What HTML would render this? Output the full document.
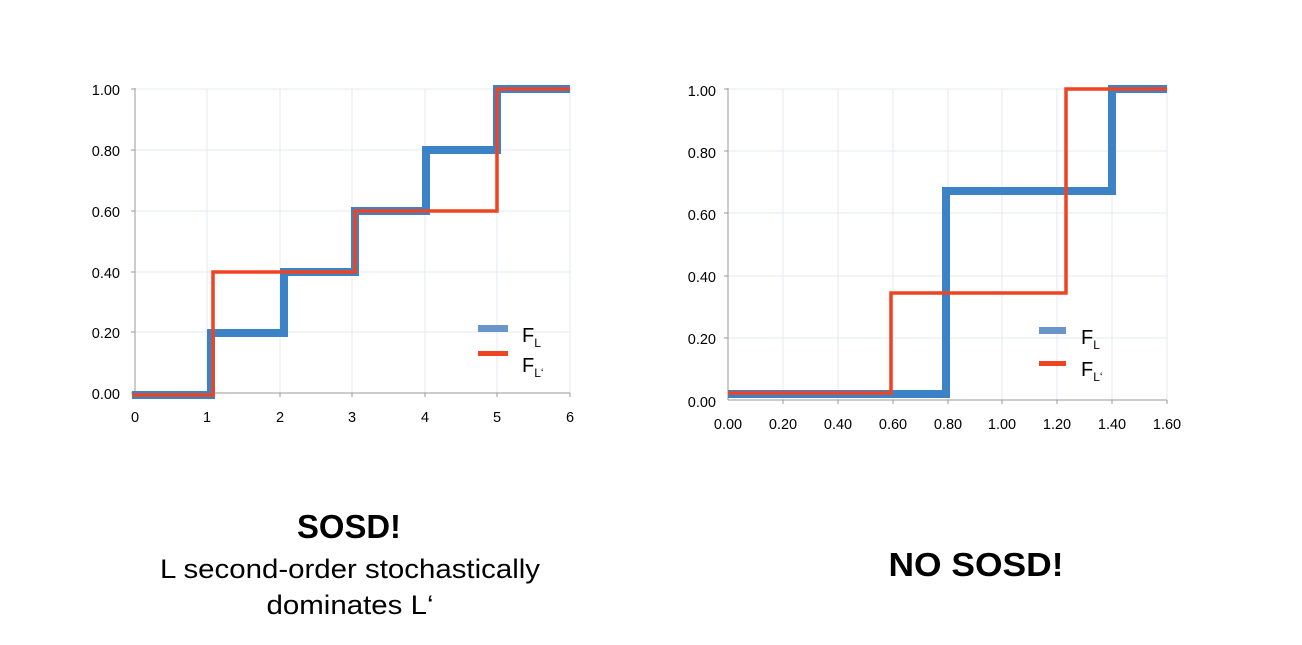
<!DOCTYPE html>
<html><head><style>
body{margin:0;background:#fff;width:1302px;height:640px;overflow:hidden;font-family:"Liberation Sans",sans-serif}
</style></head><body>
<svg width="1302" height="640" xmlns="http://www.w3.org/2000/svg" font-family="Liberation Sans, sans-serif">
<!-- Chart 1 -->
<g stroke="#e3e8f2" stroke-width="1">
<line x1="135" y1="89" x2="570" y2="89"/><line x1="135" y1="150" x2="570" y2="150"/><line x1="135" y1="211" x2="570" y2="211"/><line x1="135" y1="272" x2="570" y2="272"/><line x1="135" y1="332" x2="570" y2="332"/>
<line x1="207" y1="89" x2="207" y2="393"/><line x1="280" y1="89" x2="280" y2="393"/><line x1="352" y1="89" x2="352" y2="393"/><line x1="425" y1="89" x2="425" y2="393"/><line x1="497" y1="89" x2="497" y2="393"/><line x1="570" y1="89" x2="570" y2="393"/>
</g>
<g stroke="#999" stroke-width="1"><line x1="135" y1="88" x2="135" y2="393"/><line x1="135" y1="393" x2="570" y2="393"/>
<line x1="131" y1="89" x2="135" y2="89"/><line x1="131" y1="150" x2="135" y2="150"/><line x1="131" y1="211" x2="135" y2="211"/><line x1="131" y1="272" x2="135" y2="272"/><line x1="131" y1="332" x2="135" y2="332"/><line x1="131" y1="393" x2="135" y2="393"/>
<line x1="207" y1="393" x2="207" y2="397"/><line x1="280" y1="393" x2="280" y2="397"/><line x1="352" y1="393" x2="352" y2="397"/><line x1="425" y1="393" x2="425" y2="397"/><line x1="497" y1="393" x2="497" y2="397"/><line x1="570" y1="393" x2="570" y2="397"/></g>
<polyline fill="none" stroke="#3b83c6" stroke-width="8" points="132,395 211,395 211,333 284,333 284,272 355,272 355,211 426,211 426,150 497,150 497,89 570,89"/>
<polyline fill="none" stroke="#ee4422" stroke-width="3.5" points="132,395 213,395 213,272 355,272 355,211 497,211 497,89 570,89"/>
<g font-size="14.5" fill="#000" text-anchor="end">
<text x="120" y="95">1.00</text><text x="120" y="156">0.80</text><text x="120" y="217">0.60</text><text x="120" y="278">0.40</text><text x="120" y="338">0.20</text><text x="120" y="399">0.00</text></g>
<g font-size="14.5" fill="#000" text-anchor="middle">
<text x="135" y="422">0</text><text x="207" y="422">1</text><text x="280" y="422">2</text><text x="352" y="422">3</text><text x="425" y="422">4</text><text x="497" y="422">5</text><text x="570" y="422">6</text></g>
<rect x="478" y="325" width="30" height="7" fill="#6a95cc"/><rect x="478" y="351" width="30" height="5" fill="#ee4422"/>
<text x="522" y="342" font-size="20">F<tspan font-size="12" dy="5">L</tspan></text>
<text x="522" y="372" font-size="20">F<tspan font-size="12" dy="5">L‘</tspan></text>
<!-- Chart 2 -->
<g stroke="#e3e8f2" stroke-width="1">
<line x1="728" y1="89" x2="1167" y2="89"/><line x1="728" y1="151" x2="1167" y2="151"/><line x1="728" y1="213" x2="1167" y2="213"/><line x1="728" y1="276" x2="1167" y2="276"/><line x1="728" y1="338" x2="1167" y2="338"/>
<line x1="783" y1="89" x2="783" y2="400"/><line x1="838" y1="89" x2="838" y2="400"/><line x1="893" y1="89" x2="893" y2="400"/><line x1="948" y1="89" x2="948" y2="400"/><line x1="1002" y1="89" x2="1002" y2="400"/><line x1="1057" y1="89" x2="1057" y2="400"/><line x1="1112" y1="89" x2="1112" y2="400"/><line x1="1167" y1="89" x2="1167" y2="400"/>
</g>
<g stroke="#999" stroke-width="1"><line x1="728" y1="88" x2="728" y2="400"/><line x1="728" y1="400" x2="1167" y2="400"/>
<line x1="724" y1="89" x2="728" y2="89"/><line x1="724" y1="151" x2="728" y2="151"/><line x1="724" y1="213" x2="728" y2="213"/><line x1="724" y1="276" x2="728" y2="276"/><line x1="724" y1="338" x2="728" y2="338"/>
<line x1="783" y1="400" x2="783" y2="404"/><line x1="838" y1="400" x2="838" y2="404"/><line x1="893" y1="400" x2="893" y2="404"/><line x1="948" y1="400" x2="948" y2="404"/><line x1="1002" y1="400" x2="1002" y2="404"/><line x1="1057" y1="400" x2="1057" y2="404"/><line x1="1112" y1="400" x2="1112" y2="404"/><line x1="1167" y1="400" x2="1167" y2="404"/></g>
<polyline fill="none" stroke="#3b83c6" stroke-width="8" points="728,394 946,394 946,191 1112,191 1112,89 1167,89"/>
<polyline fill="none" stroke="#ee4422" stroke-width="3.5" points="728,393 891,393 891,293 1066,293 1066,89 1167,89"/>
<g font-size="14.5" fill="#000" text-anchor="end">
<text x="716" y="96">1.00</text><text x="716" y="158">0.80</text><text x="716" y="220">0.60</text><text x="716" y="282">0.40</text><text x="716" y="344">0.20</text><text x="716" y="407">0.00</text></g>
<g font-size="14.5" fill="#000" text-anchor="middle">
<text x="728" y="429">0.00</text><text x="783" y="429">0.20</text><text x="838" y="429">0.40</text><text x="893" y="429">0.60</text><text x="948" y="429">0.80</text><text x="1002" y="429">1.00</text><text x="1057" y="429">1.20</text><text x="1112" y="429">1.40</text><text x="1167" y="429">1.60</text></g>
<rect x="1039" y="327" width="27" height="7" fill="#6a95cc"/><rect x="1039" y="361" width="27" height="5" fill="#ee4422"/>
<text x="1081" y="344" font-size="20">F<tspan font-size="12" dy="5">L</tspan></text>
<text x="1081" y="376" font-size="20">F<tspan font-size="12" dy="5">L‘</tspan></text>
<!-- captions -->
<text x="349" y="538" font-size="33" font-weight="bold" text-anchor="middle" textLength="104" lengthAdjust="spacingAndGlyphs">SOSD!</text>
<text x="350" y="578" font-size="27" text-anchor="middle" textLength="380" lengthAdjust="spacingAndGlyphs">L second-order stochastically</text>
<text x="350" y="614" font-size="27" text-anchor="middle" textLength="167" lengthAdjust="spacingAndGlyphs">dominates L‘</text>
<text x="976" y="576" font-size="33" font-weight="bold" text-anchor="middle" textLength="175" lengthAdjust="spacingAndGlyphs">NO SOSD!</text>
</svg>
</body></html>
